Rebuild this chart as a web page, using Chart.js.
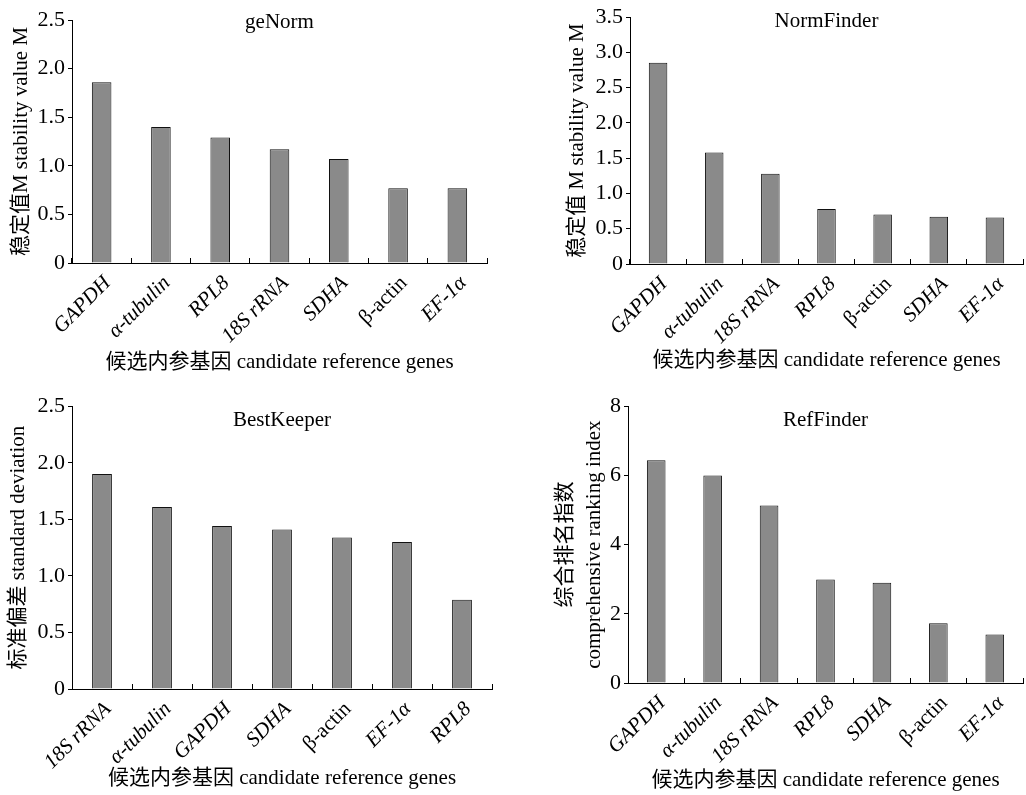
<!DOCTYPE html>
<html>
<head>
<meta charset="utf-8">
<script src="https://cdn.jsdelivr.net/npm/chart.js@4.4.0/dist/chart.umd.min.js"></script>
<style>
  html, body { margin: 0; padding: 0; background: #fff; }
  #wrap { position: relative; width: 1026px; height: 795px; }
  canvas { position: absolute; }
</style>
</head>
<body>
<div id="wrap">
  <canvas id="c1" width="513" height="390" style="left:0;top:0"></canvas>
  <canvas id="c2" width="513" height="390" style="left:513px;top:0"></canvas>
  <canvas id="c3" width="513" height="405" style="left:0;top:390px"></canvas>
  <canvas id="c4" width="513" height="405" style="left:513px;top:390px"></canvas>
</div>
<script>
// geNorm
const geNormGenes = ['GAPDH', 'α-tubulin', 'RPL8', '18S rRNA', 'SDHA', 'β-actin', 'EF-1α'];
const geNormValues = [1.86, 1.40, 1.29, 1.17, 1.07, 0.77, 0.77];

// NormFinder
const normFinderGenes = ['GAPDH', 'α-tubulin', '18S rRNA', 'RPL8', 'β-actin', 'SDHA', 'EF-1α'];
const normFinderValues = [2.85, 1.58, 1.28, 0.78, 0.70, 0.67, 0.66];

// BestKeeper
const bestKeeperGenes = ['18S rRNA', 'α-tubulin', 'GAPDH', 'SDHA', 'β-actin', 'EF-1α', 'RPL8'];
const bestKeeperValues = [1.90, 1.61, 1.44, 1.41, 1.34, 1.30, 0.79];

// RefFinder
const refFinderGenes = ['GAPDH', 'α-tubulin', '18S rRNA', 'RPL8', 'SDHA', 'β-actin', 'EF-1α'];
const refFinderValues = [6.44, 6.00, 5.13, 2.99, 2.90, 1.73, 1.40];

const xTitle = '候选内参基因 candidate reference genes';
const FONT = '"Liberation Serif", "Times New Roman", "Noto Sans CJK SC", serif';

// panel title drawn inside the plot area
const panelTitle = {
  id: 'panelTitle',
  afterDraw(chart, args, o) {
    const {ctx, chartArea} = chart;
    ctx.save();
    ctx.font = '21px ' + FONT;
    ctx.fillStyle = '#000';
    ctx.textAlign = 'center';
    ctx.textBaseline = 'middle';
    ctx.fillText(o.text, (chartArea.left + chartArea.right) / 2, chartArea.top + o.dy);
    ctx.restore();
  }
};

function makePanel(id, p) {
  const canvas = document.getElementById(id);
  const W = canvas.width, H = canvas.height;
  new Chart(canvas, {
    type: 'bar',
    data: {
      labels: p.genes,
      datasets: [{
        data: p.values,
        backgroundColor: '#8a8a8a',
        borderColor: '#111',
        borderWidth: 1,
        barPercentage: 0.33,
        categoryPercentage: 1
      }]
    },
    plugins: [panelTitle],
    options: {
      responsive: false,
      animation: false,
      layout: { padding: { left: 0, top: p.area.top, right: W - p.area.right, bottom: 0 } },
      plugins: {
        legend: { display: false },
        tooltip: { enabled: false },
        panelTitle: { text: p.title, dy: p.titleDy }
      },
      scales: {
        x: {
          afterFit: s => { s.height = H - p.area.bottom; },
          border: { color: '#000', width: 1 },
          grid: { offset: true, drawOnChartArea: false, tickLength: -5, color: '#000' },
          ticks: {
            autoSkip: false,
            minRotation: 45,
            maxRotation: 45,
            padding: 13,
            labelOffset: 6,
            color: '#000',
            font: ctx => ({
              family: FONT,
              size: 21,
              style: (p.genes[ctx.index] === 'β-actin') ? 'normal' : 'italic'
            })
          },
          title: {
            display: true,
            text: xTitle,
            color: '#000',
            font: { family: FONT, size: 21 },
            padding: { top: 0, bottom: p.xTitlePad }
          }
        },
        y: {
          min: 0,
          max: p.yMax,
          afterFit: s => { s.width = p.area.left; },
          border: { color: '#000', width: 1 },
          grid: { drawOnChartArea: false, tickLength: 4, color: '#000' },
          ticks: {
            stepSize: p.yStep,
            padding: 3,
            color: '#000',
            font: { family: FONT, size: 22 },
            callback: v => (v === 0 ? '0' : (p.yStep < 1 ? v.toFixed(1) : String(v)))
          },
          title: {
            display: true,
            text: p.yTitle,
            color: '#000',
            font: { family: FONT, size: 21, lineHeight: p.yTitleLH || 1.2 },
            padding: { top: p.yTitlePad, bottom: 0 }
          }
        }
      }
    }
  });
}

makePanel('c1', {
  genes: geNormGenes, values: geNormValues, title: 'geNorm', titleDy: 2,
  yTitle: '稳定值M stability value M', yMax: 2.5, yStep: 0.5,
  area: { left: 72, top: 20, right: 487, bottom: 263 },
  yTitlePad: 9, xTitlePad: 15
});

makePanel('c2', {
  genes: normFinderGenes, values: normFinderValues, title: 'NormFinder', titleDy: 4,
  yTitle: '稳定值 M stability value M', yMax: 3.5, yStep: 0.5,
  area: { left: 117, top: 17, right: 510, bottom: 264 },
  yTitlePad: 52, xTitlePad: 17
});

makePanel('c3', {
  genes: bestKeeperGenes, values: bestKeeperValues, title: 'BestKeeper', titleDy: 14,
  yTitle: '标准偏差 standard deviation', yMax: 2.5, yStep: 0.5,
  area: { left: 72, top: 16, right: 492, bottom: 299 },
  yTitlePad: 6, xTitlePad: 4
});

makePanel('c4', {
  genes: refFinderGenes, values: refFinderValues, title: 'RefFinder', titleDy: 14,
  yTitle: ['综合排名指数', 'comprehensive ranking index'], yMax: 8, yStep: 2,
  area: { left: 115, top: 16, right: 510, bottom: 293 },
  yTitlePad: 38, yTitleLH: 1.38, xTitlePad: 2
});
</script>
</body>
</html>
